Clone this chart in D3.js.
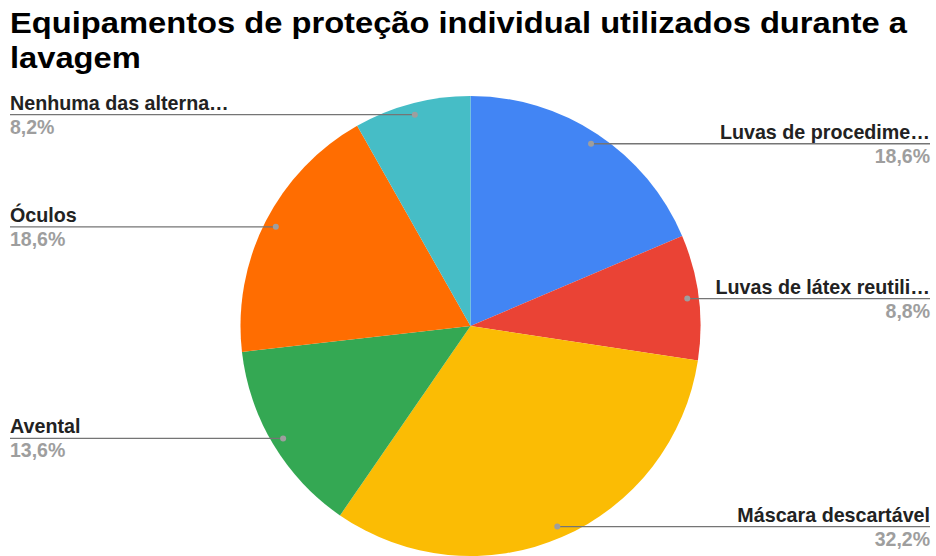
<!DOCTYPE html>
<html>
<head>
<meta charset="utf-8">
<script src="https://cdn.jsdelivr.net/npm/d3@7"></script>
<style>
  html, body { margin: 0; padding: 0; background: #fff; }
  svg { display: block; font-family: "Liberation Sans", Arial, sans-serif; }
</style>
</head>
<body>
<svg id="chart" width="936" height="556"></svg>
<script>
const titleLines = ["Equipamentos de proteção individual utilizados durante a", "lavagem"];
const categories = ["Luvas de procedime…", "Luvas de látex reutili…", "Máscara descartável", "Avental", "Óculos", "Nenhuma das alterna…"];
const values = [18.6, 8.8, 32.2, 13.6, 18.6, 8.2];
const colors = ["#4285F4", "#EA4335", "#FBBC04", "#34A853", "#FF6D01", "#46BDC6"];

const W = 936, H = 556;
const cx = 470.5, cy = 326, R = 230;
const svg = d3.select("#chart");

const titleG = svg.append("g").attr("transform", "translate(10,0) scale(1.09,1)");
titleLines.forEach((t, i) => {
  titleG.append("text")
    .attr("x", 0).attr("y", i === 0 ? 33.5 : 68)
    .attr("font-size", 30).attr("font-weight", "bold").attr("fill", "#000")
    .text(t);
});

const data = categories.map((c, i) => ({ name: c, value: values[i], color: colors[i] }));
const pie = d3.pie().value(d => d.value).sort(null);
const arcs = pie(data);
const arc = d3.arc().innerRadius(0).outerRadius(R);

const g = svg.append("g").attr("transform", `translate(${cx},${cy})`);
g.selectAll("path").data(arcs).enter().append("path")
  .attr("d", arc).attr("fill", d => d.data.color);

const fmt = v => d3.format(".1f")(v).replace(".", ",") + "%";
const total = d3.sum(values);

arcs.forEach(a => {
  const mid = (a.startAngle + a.endAngle) / 2;
  const r = R * 0.95;
  const px = cx + r * Math.sin(mid);
  const py = cy - r * Math.cos(mid);
  const right = Math.sin(mid) > 0;
  const xEnd = right ? 930 : 10;
  svg.append("line")
    .attr("x1", px).attr("y1", py).attr("x2", xEnd).attr("y2", py)
    .attr("stroke", "#757575").attr("stroke-width", 1.3);
  svg.append("circle").attr("cx", px).attr("cy", py).attr("r", 3).attr("fill", "#9e9e9e");
  svg.append("text")
    .attr("x", xEnd).attr("y", py - 5)
    .attr("text-anchor", right ? "end" : "start")
    .attr("font-size", 19.7).attr("font-weight", "bold").attr("fill", "#222")
    .text(a.data.name);
  svg.append("text")
    .attr("x", xEnd).attr("y", py + 19)
    .attr("text-anchor", right ? "end" : "start")
    .attr("font-size", 19.5).attr("font-weight", "bold").attr("fill", "#9e9e9e")
    .text(fmt(a.data.value / total * 100));
});
</script>
</body>
</html>
